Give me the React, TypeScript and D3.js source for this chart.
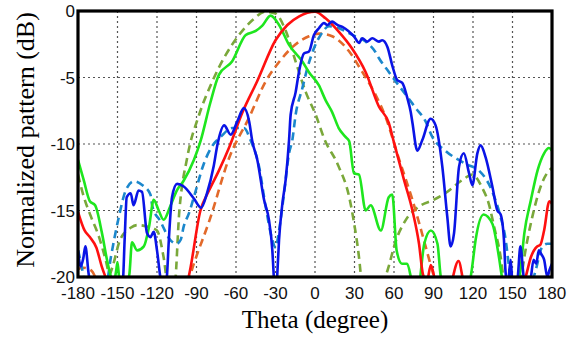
import { useEffect, useRef } from "react";
import * as d3 from "d3";

// theta ticks and dB ticks
const thetaTicks = [-180, -150, -120, -90, -60, -30, 0, 30, 60, 90, 120, 150, 180];
const dbTicks = [0, -5, -10, -15, -20];

// [theta (deg), pattern (dB)]; values below -20 are clipped
const redSolid: [number, number][] = [
  [-180, -15.1], [-175, -16.5], [-171, -17], [-166, -17.8], [-162, -19.2], [-158, -20.3],
  [-152, -22], [-140, -23], [-120, -23], [-105, -22], [-96, -20], [-87, -15], [-80.5, -13.5],
  [-73, -12], [-65, -10.2], [-55, -7.6], [-44, -5.3], [-30, -2.2], [-21, -1.05], [-12, -0.4],
  [0, -0.05], [8, -0.55], [18, -1.55], [28, -2.8], [38.5, -4.6], [48.6, -7.2], [56, -8.4],
  [60, -9.9], [67.6, -12.7], [74, -15], [79, -17.5], [82, -19.8], [85, -20.3], [88, -19.1],
  [91, -20.2], [95, -22], [102, -21], [109, -18.8], [113, -20.5], [120, -22.5], [140, -23],
  [155, -21.5], [160, -20], [164, -18.5], [168.7, -17.7], [171, -17.6], [174, -16.5],
  [178, -14.3], [180, -14.5],
];

const orangeDashed: [number, number][] = [
  [-180, -19.4], [-176, -19.3], [-170, -19.5], [-165, -20.5], [-160, -22], [-120, -24],
  [-100, -21.5], [-92, -19], [-80, -15.7], [-65, -11], [-50, -8], [-37.5, -5.3], [-27, -3.8],
  [-17, -2.7], [-4.6, -1.9], [3, -1.7], [13, -1.9], [26, -3.05], [36, -4.6], [46, -6.3],
  [53.7, -8], [64, -11.2], [74, -14.2], [84, -17.7], [89, -19.5], [93, -20.8], [100, -22.5],
  [180, -23],
];

const greenSolid: [number, number][] = [
  [-180, -11.2], [-175.7, -12.7], [-171, -14.3], [-167, -14.6], [-161.8, -16.7], [-158, -18.7],
  [-155.7, -19.7], [-153, -20.6], [-151, -19.5], [-150, -18.9], [-148.5, -20.3], [-145, -21],
  [-141, -19.8], [-139, -17.4], [-135, -18], [-130, -17.7], [-126, -16.2], [-122.5, -14.2],
  [-118.7, -15], [-115, -15.7], [-110, -14.7], [-105, -13.5], [-100, -12.8], [-92, -11.2],
  [-87, -9.8], [-79.5, -6.9], [-73, -4.8], [-63, -3.8], [-52.6, -1.8], [-45, -1.5],
  [-40, -1.1], [-33.7, -0.35], [-27.3, -1.05], [-19.7, -2.55], [-9.6, -3.8], [-4.6, -4.6],
  [3, -5.6], [8, -6.7], [13, -7.6], [18, -8.8], [23, -9.45], [26, -9.8], [29.6, -12.2],
  [33.4, -12.3], [38.5, -15], [42.3, -14.6], [50, -16.5], [56, -14], [58.7, -13.8],
  [62, -18], [66, -19], [70, -19], [74, -20.5], [78, -21], [83, -17.5], [88, -16.5],
  [93, -17.5], [95.5, -20], [100, -21.5], [115, -21.5], [119, -19.5], [122, -17.2],
  [128, -15.3], [134.7, -16], [139.7, -18.5], [142, -20], [146, -21.5], [152, -21.3],
  [156, -19.5], [159, -16.7], [164, -14.2], [169, -12], [174, -10.7], [177.7, -10.3],
  [180, -10.5],
];

const oliveDashed: [number, number][] = [
  [-180, -12.3], [-175.5, -14], [-170, -15.5], [-164, -17], [-159, -18.7], [-156, -19.8],
  [-154, -19.3], [-148, -17.2], [-140, -16.3], [-135, -16.1], [-127.6, -16.2], [-120, -16.5],
  [-115, -18.5], [-111, -21], [-107, -21], [-103, -15], [-97, -11], [-88, -7.8], [-78, -5.3],
  [-67.8, -3.3], [-57.7, -1.8], [-47.6, -0.7], [-37.5, -0.05], [-30, -0.2], [-22, -1.55],
  [-14.7, -3.8], [-7, -6.1], [0.5, -7.8], [7, -9.6], [18, -11.7], [26, -14], [29.6, -15.9],
  [33.4, -18.5], [36, -21], [40, -23], [48, -22], [52, -20.5], [56, -19.2], [61, -17.4],
  [69, -15.7], [79, -14.7], [90, -14.2], [99, -13.7], [112, -12.7], [119.5, -12.3],
  [127, -13.3], [132, -14.5], [136, -16.2], [141, -18.5], [143.5, -20.3], [147, -22],
  [152, -22.5], [156, -20.5], [159, -18.5], [165, -15.5], [171.4, -13.2], [177.7, -12],
  [180, -11.8],
];

const blueSolid: [number, number][] = [
  [-180, -18], [-178, -19.2], [-176, -18.6], [-174.4, -17.7], [-172, -19.7], [-170, -21],
  [-160, -23], [-150, -22], [-146, -20.5], [-144.5, -17], [-143, -14], [-140, -13.7],
  [-137.8, -14.6], [-134, -13.5], [-131.4, -13.6], [-127.6, -16.7], [-125, -17],
  [-122.5, -16.6], [-120, -18], [-117.5, -20], [-115, -21.5], [-112.5, -20], [-111, -17.2],
  [-108.6, -14], [-104.8, -13], [-99.7, -13.2], [-92, -14.1], [-86.5, -14.8], [-82, -13.7],
  [-77, -11.7], [-74, -10], [-69, -8.6], [-64, -9.3], [-59, -8.3], [-54, -7.3], [-50, -8.3],
  [-47.6, -9.8], [-43.8, -11.2], [-38.7, -14.2], [-35, -15.7], [-32.4, -18], [-31, -20.5],
  [-30, -22], [-29, -20.5], [-27.3, -17.2], [-24.8, -14.5], [-22.3, -12.7], [-19.7, -9.7],
  [-18.5, -7.8], [-14.7, -6.1], [-12.2, -4.6], [-8.4, -3.2], [-4.6, -3.05], [-0.8, -1.8],
  [3, -1.3], [6.8, -0.9], [9.3, -1.05], [13, -0.8], [17, -1.05], [20.8, -1.2], [25.8, -1.55],
  [29.6, -1.9], [33.4, -2.4], [35.9, -2.05], [39.7, -2.3], [43.5, -2.05], [48.6, -2.3],
  [51, -2.2], [55, -2.7], [58.7, -4.1], [62.5, -5.2], [66.3, -5.4], [70, -6.5], [72.7, -7.6],
  [74, -8.4], [77.7, -10.5], [81.5, -9.7], [87.8, -8.1], [91.6, -8.6], [96.7, -11.7],
  [100.5, -15.5], [103, -17.7], [105.6, -16.7], [109.4, -11.7], [113, -10.7], [117, -12.2],
  [119.5, -13.1], [123.3, -10.7], [125.8, -10.1], [129.6, -11], [134.7, -13.2], [138.5, -15],
  [141, -15.3], [143.5, -17.2], [144.8, -19.7], [146.5, -20.5], [148.6, -18.7], [150, -20.5],
  [152, -21], [154, -20], [156, -17.7], [158.5, -20], [161, -21], [164, -20], [166, -18.7],
  [168, -19], [170, -18], [172, -18.3], [174, -18.7], [176.5, -20], [178, -19.5], [180, -19],
];

const lightBlueDashed: [number, number][] = [
  [-180, -18], [-177, -19.3], [-175, -20.5], [-170, -22], [-160, -21.5], [-155, -18.5],
  [-149, -15.5], [-143.8, -13.5], [-137.5, -12.8], [-131, -13.1], [-125, -13.8],
  [-123.5, -14.7], [-117.5, -15.8], [-110, -17.2], [-105, -17.5], [-102, -17.2],
  [-99.7, -16.2], [-95.7, -15.2], [-92, -14], [-84.5, -11.5], [-77, -10], [-72, -9.5],
  [-62.8, -8.8], [-54, -8.8], [-49, -9.7], [-42.5, -11.7], [-37.5, -14.7], [-32.4, -17.2],
  [-30, -17.8], [-27.3, -16.5], [-23.5, -13.7], [-19.7, -10.7], [-17.2, -9.7], [-14.7, -7.8],
  [-9.6, -5.8], [-5.8, -4.3], [-0.8, -2.8], [4.3, -1.8], [10.6, -1.15], [18.2, -1.3],
  [28.4, -1.8], [38.5, -2.3], [46, -3.1], [48.6, -3.55], [56.2, -4.6], [61.3, -5.3],
  [69, -6.3], [76.5, -7.3], [84, -8.3], [89, -9.45], [99, -10.5], [114.5, -11.5],
  [124.6, -12], [132, -13], [137, -14.2], [141, -15.5], [144.8, -17.2], [147.3, -19.2],
  [149, -20.5], [155, -22], [163, -21], [167.6, -19.5], [172.7, -17.7], [176.5, -17.5],
  [180, -17.5],
];

const series = [
  { data: oliveDashed, color: "#7aa83a", dash: "8,5" },
  { data: orangeDashed, color: "#e2692a", dash: "8,5" },
  { data: lightBlueDashed, color: "#1b87cc", dash: "8,5" },
  { data: greenSolid, color: "#1ee61e", dash: null },
  { data: redSolid, color: "#ff1010", dash: null },
  { data: blueSolid, color: "#0a14e6", dash: null },
];

export default function App() {
  const ref = useRef<SVGSVGElement>(null);

  useEffect(() => {
    const svg = d3.select(ref.current);
    svg.selectAll("*").remove();

    const left = 78, right = 552, top = 11, bottom = 277;
    const x = d3.scaleLinear().domain([-180, 180]).range([left, right]);
    const y = d3.scaleLinear().domain([-20, 0]).range([bottom, top]);

    svg.append("defs").append("clipPath").attr("id", "plotclip")
      .append("rect")
      .attr("x", left).attr("y", top)
      .attr("width", right - left).attr("height", bottom - top);

    // grid
    const grid = svg.append("g");
    grid.selectAll(".vg")
      .data(thetaTicks.slice(1, -1))
      .enter()
      .append("line")
      .attr("x1", (d) => x(d)).attr("x2", (d) => x(d))
      .attr("y1", top).attr("y2", bottom)
      .attr("stroke", "#555").attr("stroke-width", 1.2)
      .attr("stroke-dasharray", "2,3");
    grid.selectAll(".hg")
      .data(dbTicks.slice(1, -1))
      .enter()
      .append("line")
      .attr("x1", left).attr("x2", right)
      .attr("y1", (d) => y(d)).attr("y2", (d) => y(d))
      .attr("stroke", "#555").attr("stroke-width", 1.2)
      .attr("stroke-dasharray", "2,3");

    const line = d3.line<[number, number]>()
      .x((d) => x(d[0]))
      .y((d) => y(d[1]))
      .curve(d3.curveMonotoneX);

    const curves = svg.append("g").attr("clip-path", "url(#plotclip)");
    series.forEach((s) => {
      curves.append("path")
        .attr("d", line(s.data))
        .attr("fill", "none")
        .attr("stroke", s.color)
        .attr("stroke-width", 2.6)
        .attr("stroke-dasharray", s.dash)
        .attr("stroke-linejoin", "round");
    });

    // frame
    svg.append("rect")
      .attr("x", left).attr("y", top)
      .attr("width", right - left).attr("height", bottom - top)
      .attr("fill", "none")
      .attr("stroke", "#000")
      .attr("stroke-width", 3.2);

    // tick labels
    svg.append("g").selectAll("text")
      .data(thetaTicks)
      .enter()
      .append("text")
      .attr("x", (d) => x(d))
      .attr("y", bottom + 22)
      .attr("text-anchor", "middle")
      .style("font-family", "'Liberation Sans', Arial, sans-serif")
      .style("font-size", "17px")
      .attr("fill", "#111")
      .text((d) => d);

    svg.append("g").selectAll("text")
      .data(dbTicks)
      .enter()
      .append("text")
      .attr("x", left - 3)
      .attr("y", (d) => y(d) + 6)
      .attr("text-anchor", "end")
      .style("font-family", "'Liberation Sans', Arial, sans-serif")
      .style("font-size", "17px")
      .attr("fill", "#111")
      .text((d) => d);

    // axis titles
    svg.append("text")
      .attr("x", (left + right) / 2)
      .attr("y", 328)
      .attr("text-anchor", "middle")
      .style("font-family", "'Liberation Serif', 'Times New Roman', serif")
      .style("font-size", "25px")
      .text("Theta (degree)");

    svg.append("text")
      .attr("transform", "translate(34,140) rotate(-90)")
      .attr("text-anchor", "middle")
      .style("font-family", "'Liberation Serif', 'Times New Roman', serif")
      .style("font-size", "26px")
      .text("Normalized pattern (dB)");
  }, []);

  return (
    <svg
      ref={ref}
      width={569}
      height={339}
      style={{ position: "absolute", left: 0, top: 0, background: "#fff" }}
    />
  );
}
